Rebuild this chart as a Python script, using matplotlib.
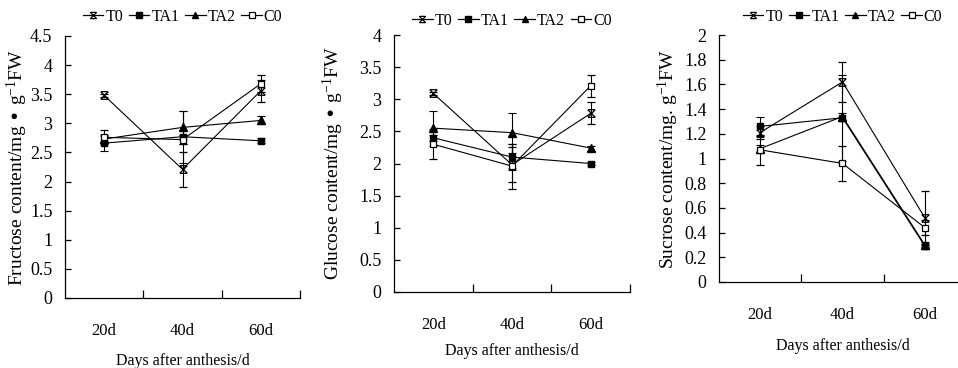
import numpy as np
import matplotlib
matplotlib.use("Agg")
import matplotlib.pyplot as plt
from matplotlib.path import Path
from matplotlib.lines import Line2D

plt.rcParams['font.family'] = ['Liberation Serif', 'DejaVu Serif']
plt.rcParams['mathtext.default'] = 'regular'

# data
days = ['20d', '40d', '60d']
series = ['T0', 'TA1', 'TA2', 'C0']

fru_T0 = [3.48, 2.21, 3.56]
fru_TA1 = [2.66, 2.77, 2.70]
fru_TA2 = [2.73, 2.93, 3.05]
fru_C0 = [2.76, 2.72, 3.68]
fru_T0_err = [0.03, 0.30, 0.19]
fru_TA1_err = [0.14, 0.45, 0.04]
fru_TA2_err = [0.05, 0.28, 0.07]
fru_C0_err = [0.12, 0.08, 0.15]

glu_T0 = [3.09, 1.98, 2.78]
glu_TA1 = [2.40, 2.10, 2.00]
glu_TA2 = [2.55, 2.48, 2.24]
glu_C0 = [2.30, 1.96, 3.21]
glu_T0_err = [0.03, 0.27, 0.17]
glu_TA1_err = [0.05, 0.20, 0.03]
glu_TA2_err = [0.27, 0.31, 0.04]
glu_C0_err = [0.23, 0.35, 0.17]

suc_T0 = [1.21, 1.62, 0.52]
suc_TA1 = [1.26, 1.33, 0.29]
suc_TA2 = [1.08, 1.34, 0.30]
suc_C0 = [1.07, 0.96, 0.44]
suc_T0_err = [0.05, 0.16, 0.22]
suc_TA1_err = [0.08, 0.35, 0.02]
suc_TA2_err = [0.03, 0.03, 0.02]
suc_C0_err = [0.12, 0.145, 0.06]

# x with bars on top and bottom, like the original T0 marker
xbar = Path([(-1, -1), (1, 1), (-1, 1), (1, -1), (-0.9, 1), (0.9, 1), (-0.9, -1), (0.9, -1)],
            [Path.MOVETO, Path.LINETO, Path.MOVETO, Path.LINETO,
             Path.MOVETO, Path.LINETO, Path.MOVETO, Path.LINETO])

styles = {
    'T0': dict(marker=xbar, mfc='none', mec='black', ms=5.5, mew=0.9),
    'TA1': dict(marker='s', mfc='black', mec='black', ms=5),
    'TA2': dict(marker='^', mfc='black', mec='black', ms=5.5),
    'C0': dict(marker='s', mfc='white', mec='black', ms=5, mew=0.9),
}

panels = [
    dict(rect=[65, 300, 36, 298], ylim=4.5, step=0.5,
         ylabel='Fructose content/mg \u2022 g$^{-1}$FW',
         vals=[fru_T0, fru_TA1, fru_TA2, fru_C0],
         errs=[fru_T0_err, fru_TA1_err, fru_TA2_err, fru_C0_err],
         leg_dy=19, ylab_dx=48, xlab_dy=55),
    dict(rect=[394, 630, 35, 292], ylim=4.0, step=0.5,
         ylabel='Glucose content/mg \u2022 g$^{-1}$FW',
         vals=[glu_T0, glu_TA1, glu_TA2, glu_C0],
         errs=[glu_T0_err, glu_TA1_err, glu_TA2_err, glu_C0_err],
         leg_dy=14, ylab_dx=61, xlab_dy=51),
    dict(rect=[719, 966, 35, 282], ylim=2.0, step=0.2,
         ylabel='Sucrose content/mg. g$^{-1}$FW',
         vals=[suc_T0, suc_TA1, suc_TA2, suc_C0],
         errs=[suc_T0_err, suc_TA1_err, suc_TA2_err, suc_C0_err],
         leg_dy=18, ylab_dx=51, xlab_dy=56),
]

W, H = 958, 368
fig = plt.figure(figsize=(W / 100, H / 100), dpi=100)

x = np.arange(len(days)) + 0.5

handles = [Line2D([], [], color='black', lw=0.9, **dict(styles[n], ms=4.5)) for n in series]

for p in panels:
    l, r, t, b = p['rect']
    ax = fig.add_axes([l / W, (H - b) / H, (r - l) / W, (b - t) / H])
    for name, v, e in zip(series, p['vals'], p['errs']):
        ax.errorbar(x, v, yerr=e, color='black', lw=0.8, elinewidth=0.8,
                    capsize=3, capthick=0.8, **styles[name])
    ax.set_xlim(0, 3)
    ax.set_ylim(0, p['ylim'])
    ax.spines['top'].set_visible(False)
    ax.spines['right'].set_visible(False)
    for s in ['left', 'bottom']:
        ax.spines[s].set_linewidth(0.9)
    yt = np.round(np.arange(0, p['ylim'] + 1e-9, p['step']), 2)
    ax.set_yticks(yt)
    ax.set_yticklabels(['%g' % v for v in yt])
    ax.set_xticks(x)
    ax.set_xticklabels(days)
    ax.set_xticks([1, 2, 3], minor=True)
    ax.tick_params(axis='x', which='major', length=0, pad=18, labelsize=12)
    ax.tick_params(axis='x', which='minor', direction='in', length=6, width=0.9)
    ax.tick_params(axis='y', direction='in', length=4, width=0.9, pad=9, labelsize=13)
    ax.set_xlabel('Days after anthesis/d', fontsize=11.5)
    ax.xaxis.set_label_coords(0.5, -p['xlab_dy'] / (b - t))
    ax.set_ylabel(p['ylabel'], fontsize=14, labelpad=0)
    ax.yaxis.label.set_va('center')
    ax.yaxis.set_label_coords(-p['ylab_dx'] / (r - l), 0.5)
    ax.legend(handles, series, loc='center', bbox_to_anchor=(0.5, 1 + p['leg_dy'] / (b - t)),
              ncol=4, frameon=False, handlelength=1.3, handletextpad=0.12,
              columnspacing=0.35, fontsize=11.5, borderaxespad=0, borderpad=0)

fig.savefig('out.png', dpi=100)
